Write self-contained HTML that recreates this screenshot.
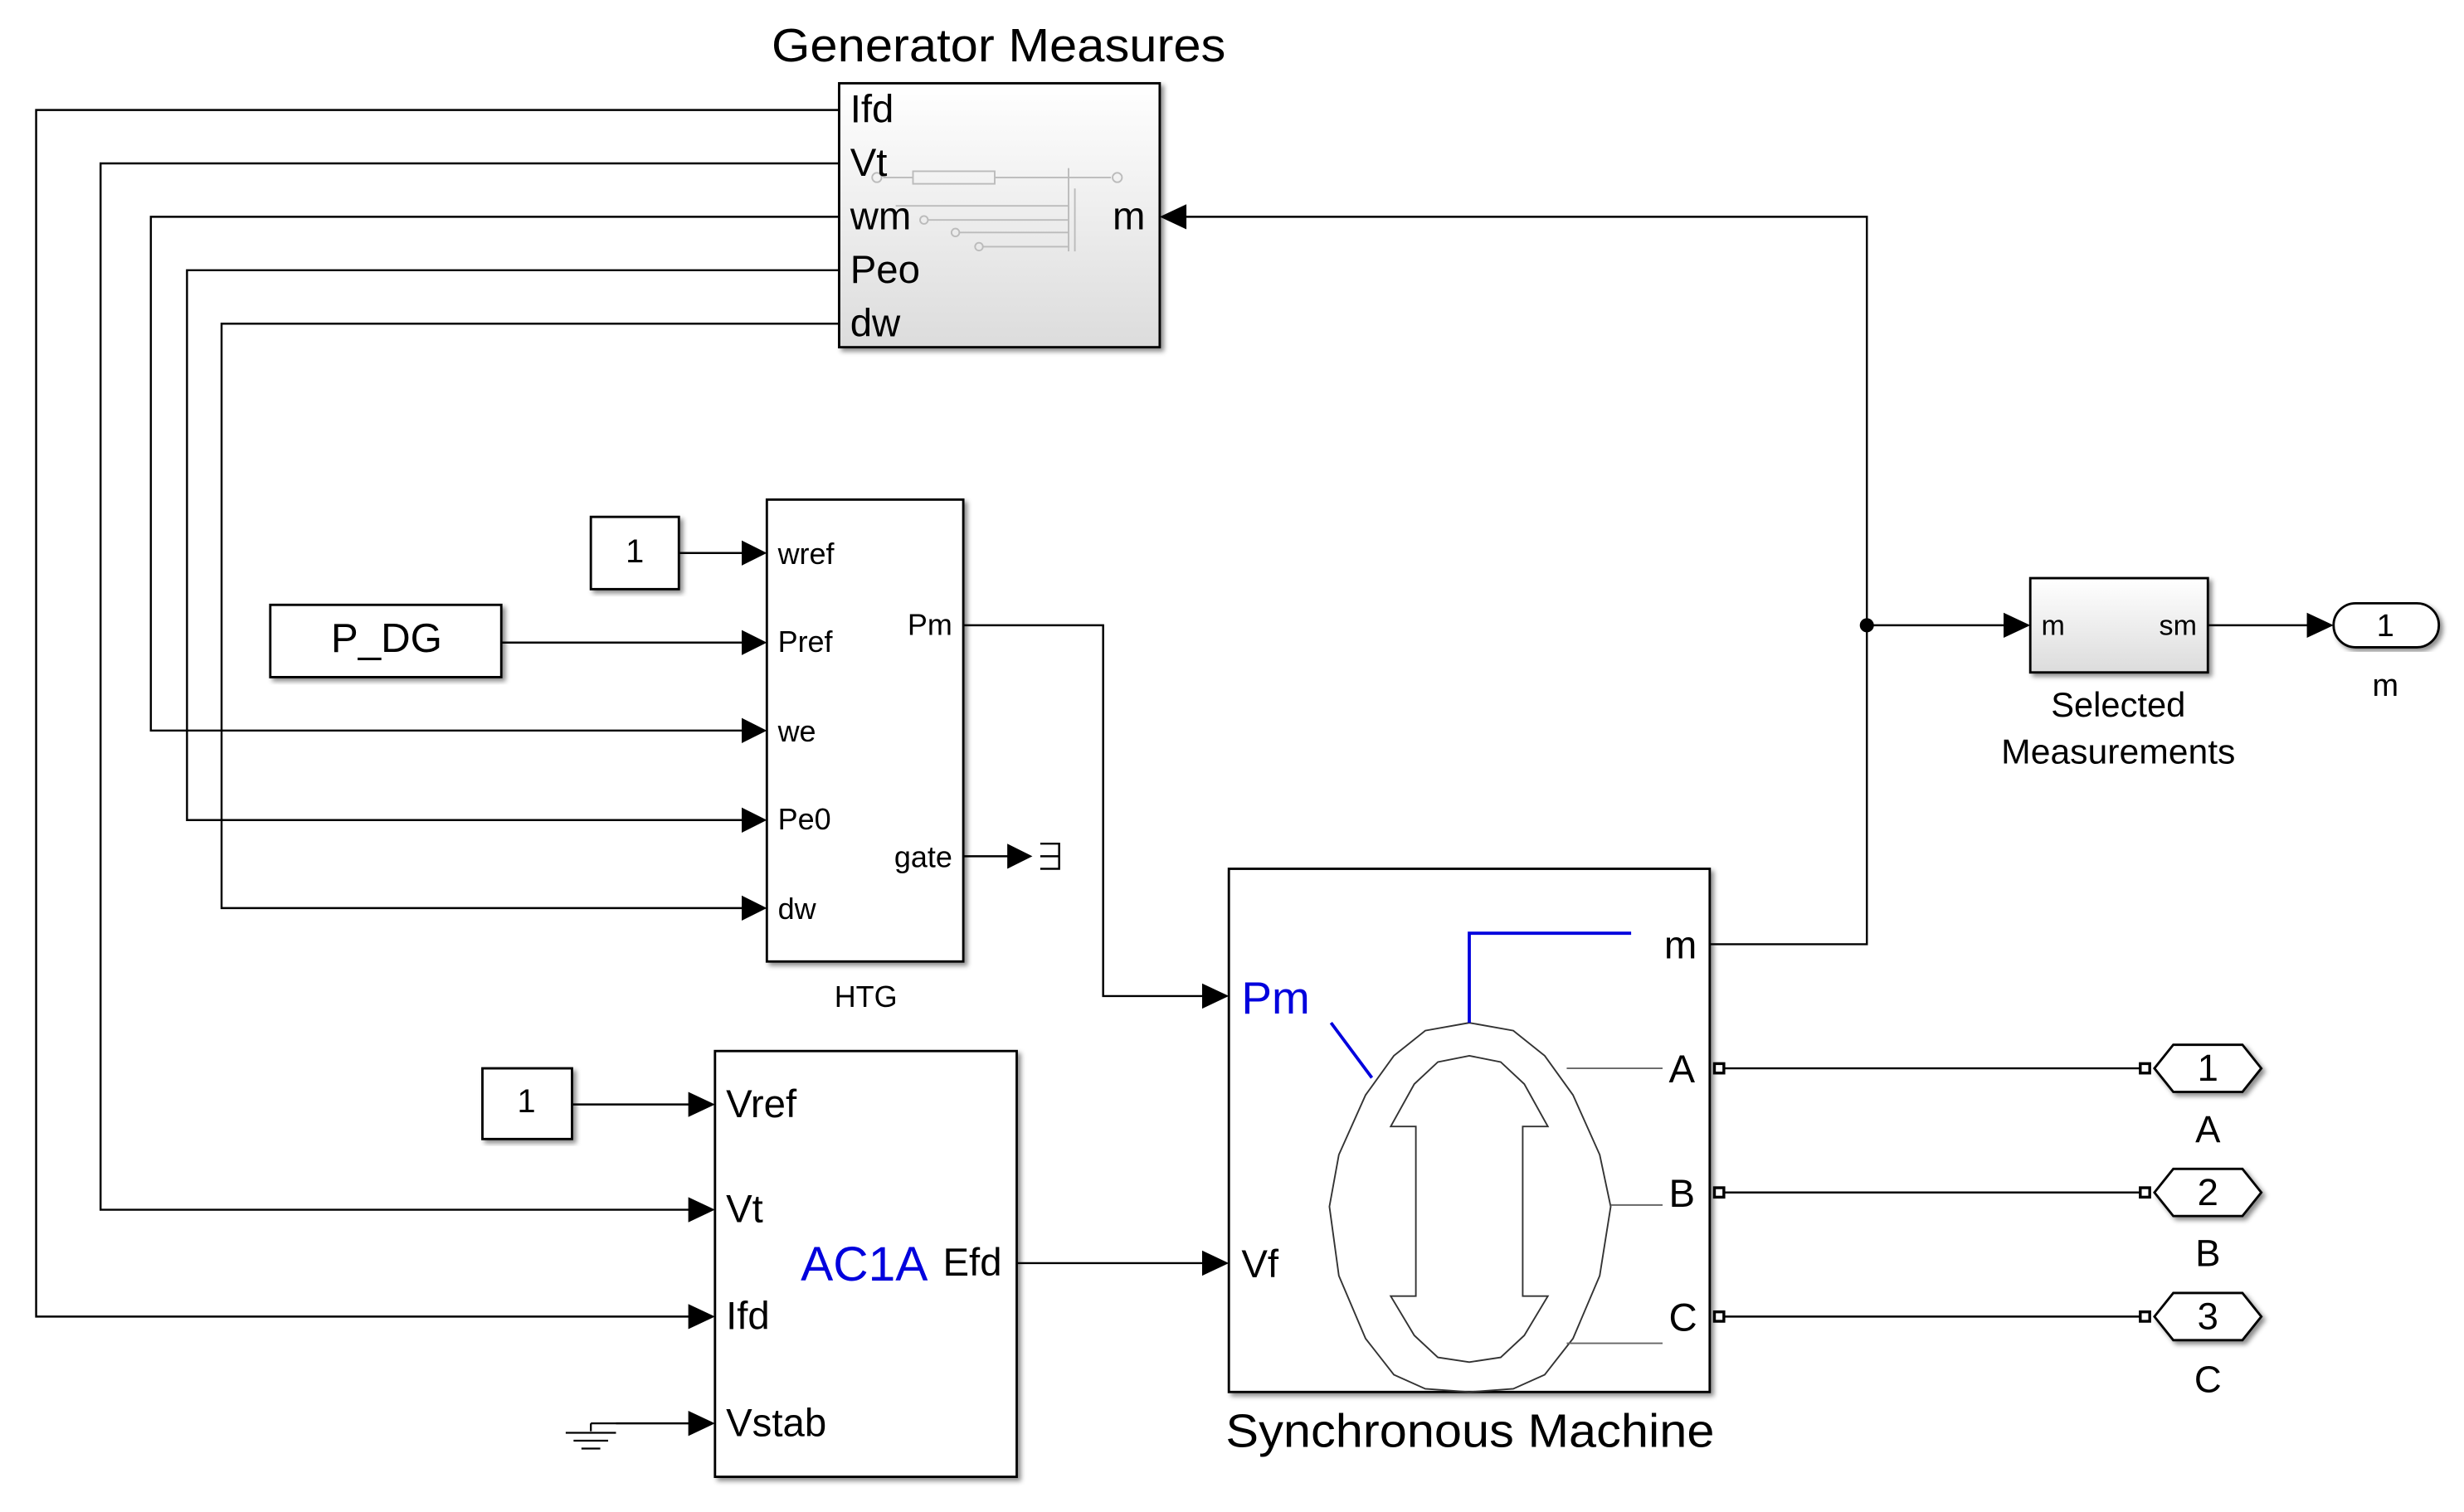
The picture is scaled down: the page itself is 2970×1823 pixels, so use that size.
<!DOCTYPE html>
<html><head><meta charset="utf-8"><style>
html,body{margin:0;padding:0;background:#fff;}
svg{display:block;}
text{font-family:"Liberation Sans",sans-serif;fill:#000;}
</style></head><body>
<svg width="2970" height="1823" viewBox="0 0 1568 962.4" preserveAspectRatio="none" xmlns="http://www.w3.org/2000/svg">
<defs>
<linearGradient id="g" x1="0" y1="0" x2="0" y2="1"><stop offset="0" stop-color="#fff"/><stop offset="1" stop-color="#dcdcdc"/></linearGradient>
<filter id="sh" x="-5%" y="-5%" width="115%" height="115%"><feDropShadow dx="2" dy="2" stdDeviation="1.5" flood-color="#000" flood-opacity="0.45"/></filter>
</defs>
<g fill="none" stroke="#000" stroke-width="1.3">
<polyline points="534,70 23,70 23,838 443,838"/>
<polyline points="534,104 64,104 64,770 443,770"/>
<polyline points="534,138 96,138 96,465 476,465"/>
<polyline points="534,172 119,172 119,522 476,522"/>
<polyline points="534,206 141,206 141,578 476,578"/>
<polyline points="1088,601 1188,601 1188,138 752,138"/>
<line x1="1188" y1="398" x2="1278" y2="398"/>
<line x1="1405" y1="398" x2="1471" y2="398"/>
<line x1="432" y1="352" x2="476" y2="352"/>
<line x1="319" y1="409" x2="476" y2="409"/>
<polyline points="613,398 702,398 702,634 770,634"/>
<line x1="613" y1="545" x2="643" y2="545"/>
<line x1="364" y1="703" x2="443" y2="703"/>
<line x1="392" y1="906" x2="443" y2="906"/>
<line x1="647" y1="804" x2="770" y2="804"/>
<line x1="1097" y1="680" x2="1362" y2="680"/>
<line x1="1097" y1="759" x2="1362" y2="759"/>
<line x1="1097" y1="838" x2="1362" y2="838"/>
</g>
<g fill="#000">
<polygon points="738,138 755,130 755,146"/>
<polygon points="1292,398 1275,390 1275,406"/>
<polygon points="1485,398 1468,390 1468,406"/>
<polygon points="488,352 472,344 472,360"/>
<polygon points="488,409 472,401 472,417"/>
<polygon points="488,465 472,457 472,473"/>
<polygon points="488,522 472,514 472,530"/>
<polygon points="488,578 472,570 472,586"/>
<polygon points="657,545 641,537 641,553"/>
<polygon points="782,634 765,626 765,642"/>
<polygon points="782,804 765,796 765,812"/>
<polygon points="455,703 438,695 438,711"/>
<polygon points="455,770 438,762 438,778"/>
<polygon points="455,838 438,830 438,846"/>
<polygon points="455,906 438,898 438,914"/>
<circle cx="1188" cy="398" r="4.5"/>
</g>
<polyline points="662,537 674,537 674,553 662,553" fill="none" stroke="#000" stroke-width="1.3"/>
<line x1="662" y1="545" x2="674" y2="545" stroke="#000" stroke-width="1.3"/>
<g stroke="#000" stroke-width="1.2">
<line x1="376" y1="906" x2="392" y2="906"/>
<line x1="376" y1="906" x2="376" y2="911"/>
<line x1="360" y1="912" x2="392" y2="912"/>
<line x1="365" y1="917" x2="387" y2="917"/>
<line x1="370" y1="922" x2="382" y2="922"/>
</g>
<text x="491" y="39" font-size="30" textLength="289" lengthAdjust="spacingAndGlyphs">Generator Measures</text>
<rect x="534" y="53" width="204" height="168" fill="url(#g)" stroke="#000" stroke-width="1.5" filter="url(#sh)"/>
<g stroke="#bbb" stroke-width="1" fill="none">
<rect x="581" y="109" width="52" height="8"/>
<line x1="562" y1="113" x2="581" y2="113"/><line x1="633" y1="113" x2="707" y2="113"/>
<circle cx="558" cy="113" r="3"/><circle cx="711" cy="113" r="3"/>
<line x1="680" y1="107" x2="680" y2="160"/><line x1="684" y1="120" x2="684" y2="160"/>
<line x1="570" y1="131" x2="680" y2="131"/><line x1="590" y1="140" x2="680" y2="140"/>
<line x1="610" y1="148" x2="680" y2="148"/><line x1="625" y1="157" x2="680" y2="157"/>
<circle cx="588" cy="140" r="2.5"/><circle cx="608" cy="148" r="2.5"/><circle cx="623" cy="157" r="2.5"/>
</g>
<g font-size="25">
<text x="541" y="78">Ifd</text><text x="541" y="112">Vt</text><text x="541" y="146">wm</text>
<text x="541" y="180">Peo</text><text x="541" y="214">dw</text><text x="708" y="146">m</text>
</g>
<rect x="376" y="329" width="56" height="46" fill="#fff" stroke="#000" stroke-width="1.5" filter="url(#sh)"/>
<text x="404" y="358" font-size="21" text-anchor="middle">1</text>
<rect x="172" y="385" width="147" height="46" fill="#fff" stroke="#000" stroke-width="1.5" filter="url(#sh)"/>
<text x="246" y="415" font-size="26" text-anchor="middle">P_DG</text>
<rect x="488" y="318" width="125" height="294" fill="#fff" stroke="#000" stroke-width="1.5" filter="url(#sh)"/>
<g font-size="19">
<text x="495" y="359">wref</text><text x="495" y="415">Pref</text><text x="495" y="472">we</text>
<text x="495" y="528">Pe0</text><text x="495" y="585">dw</text>
<text x="606" y="404" text-anchor="end">Pm</text><text x="606" y="552" text-anchor="end">gate</text>
<text x="551" y="641" text-anchor="middle">HTG</text>
</g>
<rect x="1292" y="368" width="113" height="60" fill="url(#g)" stroke="#000" stroke-width="1.5" filter="url(#sh)"/>
<text x="1299" y="404" font-size="18">m</text><text x="1398" y="404" font-size="18" text-anchor="end">sm</text>
<text x="1348" y="456" font-size="22" text-anchor="middle">Selected</text>
<text x="1348" y="486" font-size="22" text-anchor="middle" textLength="149" lengthAdjust="spacingAndGlyphs">Measurements</text>
<rect x="1485" y="384" width="67" height="28" rx="14" fill="#fff" stroke="#000" stroke-width="1.5" filter="url(#sh)"/>
<text x="1518" y="405" font-size="20" text-anchor="middle">1</text>
<text x="1518" y="443" font-size="20" text-anchor="middle">m</text>
<rect x="307" y="680" width="57" height="45" fill="#fff" stroke="#000" stroke-width="1.5" filter="url(#sh)"/>
<text x="335" y="708" font-size="21" text-anchor="middle">1</text>
<rect x="455" y="669" width="192" height="271" fill="#fff" stroke="#000" stroke-width="1.5" filter="url(#sh)"/>
<g font-size="25">
<text x="462" y="711">Vref</text><text x="462" y="778">Vt</text><text x="462" y="846">Ifd</text><text x="462" y="914">Vstab</text>
<text x="600" y="812">Efd</text>
</g>
<text x="550" y="815" font-size="31" style="fill:#0000dd" text-anchor="middle">AC1A</text>
<rect x="782" y="553" width="306" height="333" fill="#fff" stroke="#000" stroke-width="1.5" filter="url(#sh)"/>
<g fill="none" stroke="#333" stroke-width="1">
<polygon points="935,651 963,656 983,672 1001,697 1018,735 1025,768 1018,812 1001,852 983,875 963,884 935,886 907,884 887,875 869,852 852,812 846,768 852,735 869,697 887,672 907,656"/>
<polygon points="935,672 955,676 970,690 985,717 969,717 969,825 985,825 970,850 955,864 935,867 915,864 900,850 885,825 901,825 901,717 885,717 900,690 915,676"/>
<line x1="997" y1="680" x2="1058" y2="680" stroke="#666"/>
<line x1="1025" y1="767" x2="1058" y2="767" stroke="#666"/>
<line x1="997" y1="855" x2="1058" y2="855" stroke="#666"/>
</g>
<g fill="none" stroke="#0000dd" stroke-width="2">
<polyline points="935,651 935,594 1038,594"/>
<line x1="847" y1="651" x2="873" y2="686"/>
</g>
<text x="790" y="645" font-size="29" style="fill:#0000dd">Pm</text>
<text x="790" y="813" font-size="25">Vf</text>
<g font-size="25">
<text x="1059" y="610">m</text><text x="1062" y="689">A</text><text x="1062" y="768">B</text><text x="1062" y="847">C</text>
</g>
<text x="780" y="921" font-size="30" textLength="311" lengthAdjust="spacingAndGlyphs">Synchronous Machine</text>
<g fill="#fff" stroke="#000" stroke-width="1.8">
<rect x="1091" y="677" width="6" height="6"/><rect x="1091" y="756" width="6" height="6"/><rect x="1091" y="835" width="6" height="6"/>
<rect x="1362" y="677" width="6" height="6"/><rect x="1362" y="756" width="6" height="6"/><rect x="1362" y="835" width="6" height="6"/>
</g>
<g fill="#fff" stroke="#000" stroke-width="1.5" filter="url(#sh)">
<polygon points="1371,680 1383,665 1427,665 1439,680 1427,695 1383,695"/>
<polygon points="1371,759 1383,744 1427,744 1439,759 1427,774 1383,774"/>
<polygon points="1371,838 1383,823 1427,823 1439,838 1427,853 1383,853"/>
</g>
<g font-size="24" text-anchor="middle">
<text x="1405" y="688">1</text><text x="1405" y="767">2</text><text x="1405" y="846">3</text>
<text x="1405" y="727">A</text><text x="1405" y="806">B</text><text x="1405" y="886">C</text>
</g>
</svg>
</body></html>
